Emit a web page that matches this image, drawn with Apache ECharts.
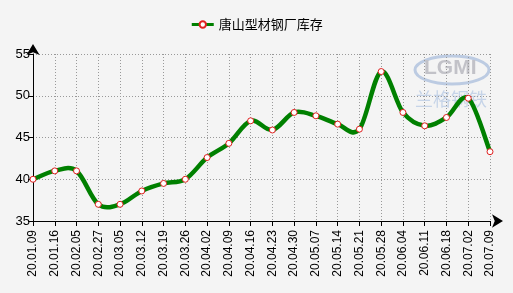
<!DOCTYPE html>
<html><head><meta charset="utf-8">
<script src="https://cdn.jsdelivr.net/npm/echarts@6/dist/echarts.min.js"></script>
<style>html,body{margin:0;padding:0;background:#f4f4f4}#c{width:513px;height:293px}</style>
</head><body><div id="c"></div>
<script>
const categories = ['20.01.09','20.01.16','20.02.05','20.02.27','20.03.05','20.03.12','20.03.19','20.03.26','20.04.02','20.04.09','20.04.16','20.04.23','20.04.30','20.05.07','20.05.14','20.05.21','20.05.28','20.06.04','20.06.11','20.06.18','20.07.02','20.07.09'];
const seriesName = '唐山型材钢厂库存';
const values = [40, 41, 41, 37, 37, 38.6, 39.5, 40, 42.6, 44.3, 47, 45.9, 48, 47.6, 46.6, 46, 52.9, 48, 46.4, 47.4, 49.7, 43.3];
const yTicks = [35, 40, 45, 50, 55];

const GREEN = '#008000';
const chart = echarts.init(document.getElementById('c'));

function renderSeg(params, api) {
  const i = params.dataIndexInside;
  const n = params.dataInsideLength;
  if (i >= n - 1) return null;
  const P = k => {
    k = Math.max(0, Math.min(n - 1, k));
    return api.coord([api.value(0, k), api.value(1, k)]);
  };
  const p0 = P(i - 1), p1 = P(i), p2 = P(i + 1), p3 = P(i + 2);
  return {
    type: 'bezierCurve',
    shape: {
      x1: p1[0], y1: p1[1], x2: p2[0], y2: p2[1],
      cpx1: p1[0] + (p2[0] - p0[0]) / 6, cpy1: p1[1] + (p2[1] - p0[1]) / 6,
      cpx2: p2[0] - (p3[0] - p1[0]) / 6, cpy2: p2[1] - (p3[1] - p1[1]) / 6
    },
    style: {stroke: GREEN, lineWidth: 4.5, fill: null, lineCap: 'round'},
    silent: true
  };
}

chart.setOption({
  backgroundColor: '#f4f4f4',
  animation: false,
  legend: {
    top: 13, left: 'center',
    itemWidth: 22, itemHeight: 8, itemGap: 5,
    textStyle: {fontFamily: 'Noto Sans CJK SC', fontSize: 13, color: '#000'},
    lineStyle: {color: GREEN, width: 3, opacity: 1},
    data: [{name: seriesName}]
  },
  graphic: [
    {type: 'ellipse', shape: {cx: 452, cy: 70, rx: 37, ry: 14}, style: {fill: 'none', stroke: '#bccbe2', lineWidth: 3}, z: 0},
    {type: 'text', left: 424, top: 58, style: {text: 'LGMI', fontSize: 21, fontWeight: 'bold', fontFamily: 'Liberation Sans', fill: '#c2c2c8'}, z: 0},
    {type: 'text', left: 415, top: 90, style: {text: '兰格钢铁', fontSize: 18, fontFamily: 'Noto Sans CJK SC', fill: '#c6d4e8'}, z: 0}
  ],
  grid: {left: 33, right: 23, top: 54, bottom: 72},
  xAxis: {
    type: 'category', data: categories, boundaryGap: false,
    axisLine: {lineStyle: {color: '#000', width: 1}, symbol: ['none', 'arrow'], symbolSize: [10, 11], symbolOffset: [0, 13]},
    axisTick: {show: true, length: 5, lineStyle: {color: '#000'}},
    axisLabel: {rotate: 90, fontSize: 12, fontFamily: 'Liberation Sans', color: '#000', margin: 9},
    splitLine: {show: true, lineStyle: {color: '#999', type: [1, 2]}}
  },
  yAxis: {
    type: 'value', min: 35, max: 55, interval: 5,
    axisLine: {show: true, lineStyle: {color: '#000', width: 1}, symbol: ['none', 'arrow'], symbolSize: [10, 11], symbolOffset: [0, 10]},
    axisTick: {show: true, length: 5, lineStyle: {color: '#000'}},
    axisLabel: {fontSize: 13, fontFamily: 'Liberation Sans', color: '#000', margin: 3,
      formatter: v => yTicks.includes(v) ? String(v) : ''},
    splitLine: {show: true, lineStyle: {color: '#999', type: [1, 2]}}
  },
  series: [
    {
      type: 'custom', name: 'curve', renderItem: renderSeg,
      data: values.map((v, i) => [i, v]), encode: {x: 0, y: 1}, z: 2, silent: true
    },
    {
      name: seriesName, type: 'line', data: values,
      symbol: 'circle', symbolSize: 6, showAllSymbol: true,
      lineStyle: {color: GREEN, width: 4, opacity: 0},
      itemStyle: {color: '#fff', borderColor: '#e02020', borderWidth: 1},
      z: 3
    }
  ]
});
</script></body></html>
